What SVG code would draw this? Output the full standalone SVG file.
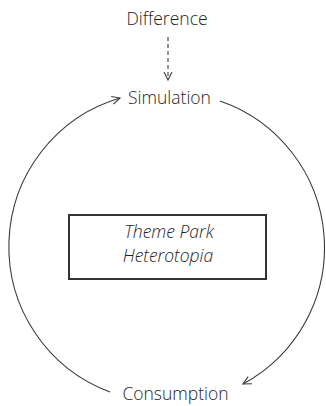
<svg xmlns="http://www.w3.org/2000/svg" width="326" height="406" viewBox="0 0 326 406">
<defs>
<style>
.lbl{font-family:"Open Sans","Liberation Sans",sans-serif;font-size:17.5px;font-weight:300;fill:#1e1e1e;text-anchor:middle}
.it{font-style:italic}
.edge{fill:none;stroke:#3a3a3a;stroke-width:1.1}
.box{fill:#fff;stroke:#333;stroke-width:2}
</style>
<marker id="chev" viewBox="0 0 10 10" refX="9" refY="5" markerWidth="10" markerHeight="10" markerUnits="userSpaceOnUse" orient="auto">
<path d="M1,1 L9,5 L1,9" fill="none" stroke="#3a3a3a" stroke-width="1.1"/>
</marker>
</defs>
<rect width="326" height="406" fill="#fff"/>
<g id="connectors">
<path class="edge" d="M168,37 L168,80" stroke-dasharray="4,3" marker-end="url(#chev)"/>
<path class="edge" d="M110,392 A155,155 0 0 1 120,98" marker-end="url(#chev)"/>
<path class="edge" d="M220,101 A155,155 0 0 1 243,384" marker-end="url(#chev)"/>
</g>
<g id="difference"><text class="lbl" x="167" y="25">Difference</text></g>
<g id="simulation"><text class="lbl" x="169.5" y="104">Simulation</text></g>
<g id="consumption"><text class="lbl" x="175.5" y="400">Consumption</text></g>
<g id="heterotopia">
<rect class="box" x="69" y="215" width="197" height="64"/>
<text class="lbl it" x="169" y="238">Theme Park</text>
<text class="lbl it" x="168" y="262">Heterotopia</text>
</g>
</svg>
